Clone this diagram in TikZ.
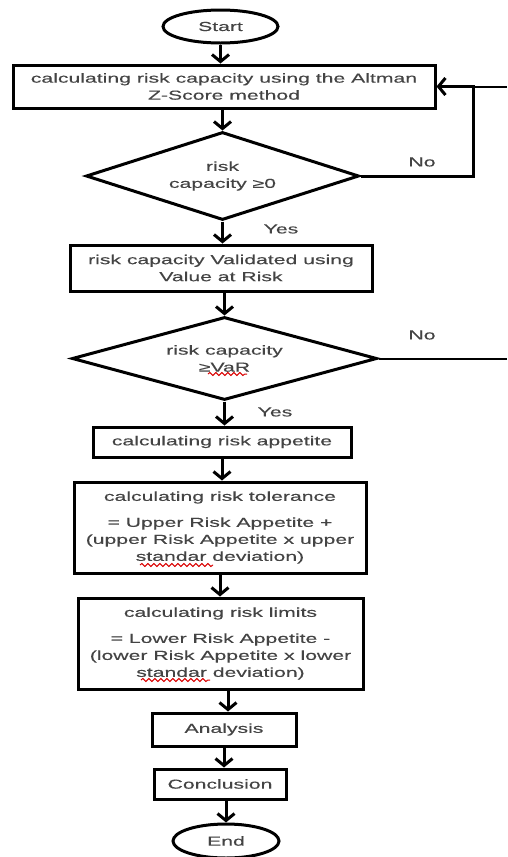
\documentclass[tikz,border=0pt]{standalone}
\usepackage{fontspec}
\setmainfont[FakeStretch=1.63,FakeBold=0.3]{Liberation Sans}
\usetikzlibrary{shapes.geometric,arrows.meta,decorations.pathmorphing}
\definecolor{txtgray}{HTML}{444444}
\begin{document}
\begin{tikzpicture}[x=1pt,y=-1pt,
  txt/.style={text=txtgray, font=\fontsize{13}{17}\selectfont, align=center},
  proc/.style={draw, line width=3pt, txt, inner sep=0pt},
  term/.style={draw, ellipse, line width=3pt, txt, inner sep=0pt},
  deci/.style={draw, diamond, line width=3pt, txt, inner sep=0pt, shape aspect=3.1},
  arr/.style={line width=3pt, -{Straight Barb[length=7pt,width=17pt]}},
  thinflow/.style={line width=2pt},
  lbl/.style={txt},
  squig/.style={red!85!black, line width=1pt, decorate, decoration={snake, amplitude=1.5pt, segment length=6pt}}
]
\useasboundingbox (0,0) rectangle (507,857);

\node[term, minimum width=115pt, minimum height=33pt] (s) at (220.5,26.5) {Start};
\node[proc, minimum width=422pt, minimum height=43pt] (b1) at (224,86.5) {calculating risk capacity using the Altman\\Z-Score method};
\node[deci, minimum width=273pt, minimum height=88pt] (d1) at (222.5,176) {risk\\capacity ≥0};
\node[proc, minimum width=302pt, minimum height=46pt] (b2) at (221,268) {risk capacity Validated using\\Value at Risk};
\node[deci, minimum width=305pt, minimum height=83pt] (d2) at (224.5,358.5) {risk capacity\\≥VaR};
\node[proc, minimum width=258pt, minimum height=30pt] (b3) at (222,442) {calculating risk appetite};
\node[proc, minimum width=292pt, minimum height=91pt] (b4) at (220,527.5) {calculating risk tolerance\\[9pt]= Upper Risk Appetite +\\(upper Risk Appetite x upper\\standar deviation)};
\node[proc, minimum width=285pt, minimum height=91pt] (b5) at (220.5,643.5) {calculating risk limits\\[9pt]= Lower Risk Appetite -\\(lower Risk Appetite x lower\\standar deviation)};
\node[proc, minimum width=144pt, minimum height=33pt] (b6) at (224,729.5) {Analysis};
\node[proc, minimum width=132pt, minimum height=30pt] (b7) at (220,784) {Conclusion};
\node[term, minimum width=106pt, minimum height=34pt] (e) at (226,841) {End};

\node[lbl] (no1) at (422,162) {No};
\node[lbl] (yes1) at (281,229) {Yes};
\node[lbl] (no2) at (422,335) {No};
\node[lbl] (yes2) at (275,412) {Yes};

\coordinate (lp) at (473,86.5);
\coordinate (edge1) at (507,86.5);
\coordinate (edge2) at (507,358.5);

\draw[arr] (s.south) -- (s.south |- b1.north);
\draw[arr] (b1.south -| d1) -- (d1.north);
\draw[arr] (d1.south) -- (d1.south |- b2.north);
\draw[arr] (b2.south -| d2) -- (d2.north);
\draw[arr] (d2.south) -- (d2.south |- b3.north);
\draw[arr] (b3.south) -- (b3.south |- b4.north);
\draw[arr] (b4.south) -- (b4.south |- b5.north);
\draw[arr] (b5.south -| 228,0) -- (228,0 |- b6.north);
\draw[arr] (b6.south) -- (b6.south |- b7.north);
\draw[arr] (b7.south -| e) -- (e.north);

\draw[arr] (d1.east) -- (d1.east -| lp) -- (lp) -- (b1.east);
\draw[thinflow] (lp) -- (edge1);
\draw[thinflow] (d2.east) -- (edge2);

\draw[squig] (208,374) -- (247,374);
\draw[squig] (140,565) -- (213,565);
\draw[squig] (141,680) -- (210,680);
\end{tikzpicture}
\end{document}
